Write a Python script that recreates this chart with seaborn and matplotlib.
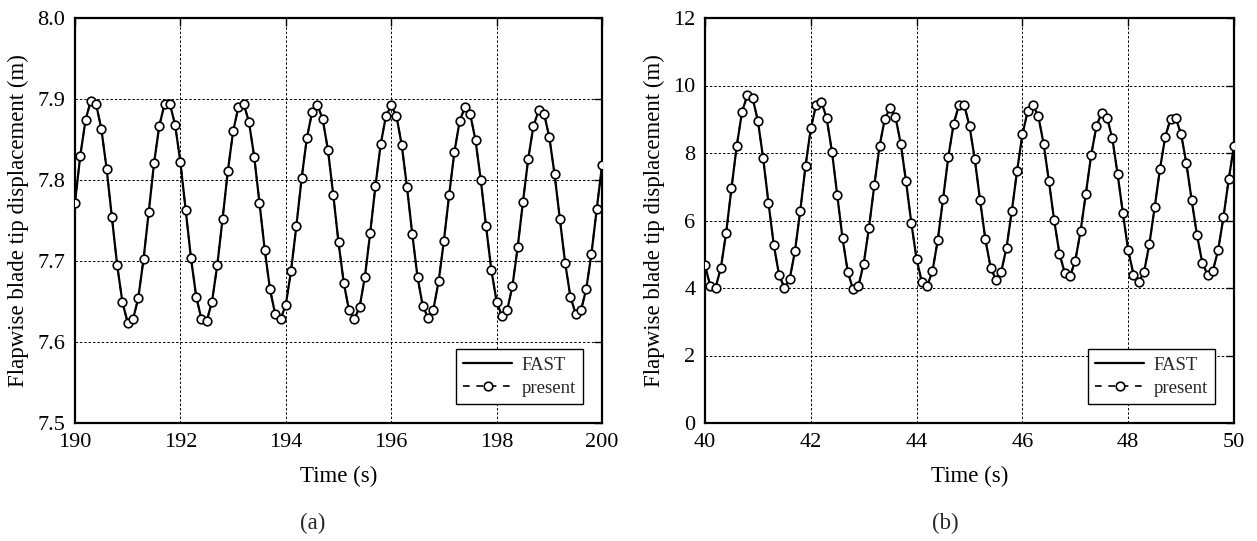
import numpy as np
import pandas as pd
import matplotlib
matplotlib.use("Agg")
import matplotlib.pyplot as plt
import seaborn as sns

sns.set_theme(style="white")
plt.rcParams['font.family'] = ['Liberation Serif', 'DejaVu Serif']
plt.rcParams['mathtext.fontset'] = 'stix'

# ---- data (a): t = 190.0 .. 200.0 s, step 0.1 s ----
time_a = np.round(np.arange(190.0, 200.05, 0.1), 1)
disp_a = [
    7.772, 7.830, 7.874, 7.898, 7.894, 7.863, 7.814, 7.754, 7.695, 7.649,
    7.624, 7.628, 7.654, 7.702, 7.761, 7.821, 7.867, 7.894, 7.894, 7.868,
    7.822, 7.763, 7.704, 7.656, 7.628, 7.626, 7.650, 7.695, 7.752, 7.811,
    7.860, 7.890, 7.894, 7.872, 7.829, 7.772, 7.714, 7.665, 7.634, 7.628,
    7.646, 7.688, 7.743, 7.802, 7.852, 7.884, 7.893, 7.875, 7.837, 7.782,
    7.723, 7.673, 7.639, 7.628, 7.643, 7.680, 7.734, 7.792, 7.844, 7.879,
    7.892, 7.879, 7.843, 7.791, 7.733, 7.680, 7.644, 7.630, 7.640, 7.675,
    7.725, 7.782, 7.835, 7.873, 7.890, 7.881, 7.849, 7.800, 7.743, 7.689,
    7.650, 7.632, 7.639, 7.669, 7.717, 7.773, 7.826, 7.867, 7.886, 7.882,
    7.853, 7.807, 7.752, 7.698, 7.656, 7.635, 7.639, 7.665, 7.709, 7.764,
    7.818,
]

# ---- data (b): t = 40.0 .. 50.0 s, step 0.1 s ----
time_b = np.round(np.arange(40.0, 50.05, 0.1), 1)
disp_b = [
    4.67, 4.06, 4.01, 4.60, 5.64, 6.95, 8.21, 9.22, 9.71, 9.63,
    8.95, 7.84, 6.52, 5.28, 4.39, 4.01, 4.26, 5.09, 6.28, 7.61,
    8.73, 9.42, 9.52, 9.03, 8.04, 6.75, 5.47, 4.47, 3.96, 4.06,
    4.72, 5.79, 7.04, 8.21, 9.02, 9.34, 9.07, 8.28, 7.16, 5.93,
    4.85, 4.17, 4.06, 4.50, 5.42, 6.64, 7.89, 8.86, 9.42, 9.42,
    8.80, 7.81, 6.60, 5.44, 4.60, 4.25, 4.48, 5.20, 6.28, 7.48,
    8.55, 9.24, 9.42, 9.10, 8.28, 7.18, 6.01, 5.02, 4.45, 4.35,
    4.81, 5.69, 6.80, 7.94, 8.80, 9.20, 9.05, 8.43, 7.37, 6.21,
    5.12, 4.40, 4.18, 4.48, 5.30, 6.39, 7.52, 8.48, 9.01, 9.03,
    8.56, 7.69, 6.60, 5.57, 4.75, 4.39, 4.51, 5.12, 6.09, 7.22,
    8.22,
]

series_labels = ["FAST", "present"]
xticks_a = [190, 192, 194, 196, 198, 200]
yticks_a = [7.5, 7.6, 7.7, 7.8, 7.9, 8.0]
xticks_b = [40, 42, 44, 46, 48, 50]
yticks_b = [0, 2, 4, 6, 8, 10, 12]
panel_tags = ["(a)", "(b)"]

W, H = 1257, 541
fig = plt.figure(figsize=(W / 100, H / 100), dpi=100)
ax_a = fig.add_axes([75 / W, 1 - 423 / H, (602 - 75) / W, (423 - 18) / H])
ax_b = fig.add_axes([705 / W, 1 - 423 / H, (1234 - 705) / W, (423 - 18) / H])

TICK_FS = 16
LABEL_FS = 16.5
LEG_FS = 13.5

def draw(ax, t, v, xticks, yticks, yfmt):
    df = pd.DataFrame({"t": t, "v": v})
    sns.lineplot(data=df, x="t", y="v", ax=ax, color="black", lw=1.6,
                 label=series_labels[0], zorder=3)
    sns.lineplot(data=df, x="t", y="v", ax=ax, color="black", lw=1.2,
                 linestyle=(0, (4, 4)), marker="o", markersize=6.2,
                 markerfacecolor="white", markeredgecolor="black",
                 markeredgewidth=1.2, label=series_labels[1], zorder=4)
    ax.set_xlim(xticks[0], xticks[-1])
    ax.set_ylim(yticks[0], yticks[-1])
    ax.set_xticks(xticks)
    ax.set_yticks(yticks)
    ax.set_yticklabels([yfmt.format(y) for y in yticks])
    ax.grid(True, color="black", linestyle=(0, (2.5, 2)), linewidth=0.7)
    ax.tick_params(direction="in", length=6, width=1, labelsize=TICK_FS,
                   top=True, right=True, colors="black", pad=7)
    for s in ax.spines.values():
        s.set_color("black")
        s.set_linewidth(1.6)
    ax.set_xlabel("Time (s)", fontsize=LABEL_FS, labelpad=10, color="black")
    ax.set_ylabel("Flapwise blade tip displacement (m)", fontsize=LABEL_FS,
                  labelpad=6, color="black")
    leg = ax.legend(loc="lower right", fontsize=LEG_FS, frameon=True,
                    fancybox=False, framealpha=1, edgecolor="black",
                    borderaxespad=1.0, handlelength=2.6, borderpad=0.4,
                    labelspacing=0.3, handletextpad=0.5)
    leg.get_frame().set_linewidth(1.0)

draw(ax_a, time_a, disp_a, xticks_a, yticks_a, "{:.1f}")
draw(ax_b, time_b, disp_b, xticks_b, yticks_b, "{:d}")

fig.text(313 / W, 1 - 523 / H, panel_tags[0], ha="center", va="center", fontsize=LABEL_FS)
fig.text(945 / W, 1 - 523 / H, panel_tags[1], ha="center", va="center", fontsize=LABEL_FS)

fig.savefig("out.png", dpi=100, facecolor="white")
